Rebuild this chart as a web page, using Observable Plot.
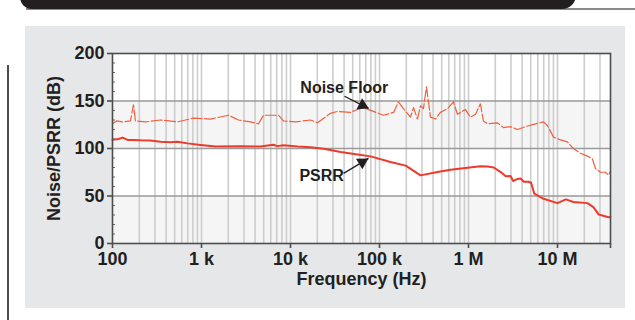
<!DOCTYPE html>
<html>
<head>
<meta charset="utf-8">
<script src="https://cdn.jsdelivr.net/npm/d3@7"></script>
<script src="https://cdn.jsdelivr.net/npm/@observablehq/plot@0.6"></script>
<style>
  html, body { margin: 0; padding: 0; background: #ffffff; }
  #page { position: relative; width: 635px; height: 320px; overflow: hidden; }
  #banner { position: absolute; left: 20px; top: -12px; width: 556px; height: 21px; background: #231f20; border-radius: 0 0 14px 12px; }
  #bannerLine { position: absolute; left: 26px; top: 8px; width: 609px; height: 1.5px; background: #8a8a8a; }
  #sideLine { position: absolute; left: 7px; top: 65px; width: 2px; height: 260px; background: #4d4d4d; }
  #chart { position: absolute; left: 25px; top: 26px; }
  #chart svg { display: block; background: #e6e7e8; }
</style>
</head>
<body>
<div id="page">
  <div id="bannerLine"></div>
  <div id="banner"></div>
  <div id="sideLine"></div>
  <div id="chart"></div>
</div>
<script>
// ---- Data ----
const xMin = 100, xMax = 3.94e7;
const xTickValues = [100, 1e3, 1e4, 1e5, 1e6, 1e7];
const xTickLabels = ["100", "1 k", "10 k", "100 k", "1 M", "10 M"];
const yTickValues = [0, 50, 100, 150, 200];
const yMinorTicks = [10, 20, 30, 40, 60, 70, 80, 90, 110, 120, 130, 140, 160, 170, 180, 190];
const gridDecades = [100, 1e3, 1e4, 1e5, 1e6, 1e7];
const gridMultipliers = [1, 2, 3, 4, 5, 6, 7, 8, 9];
const hGrid = [50, 100, 150];
const bandLo = [0, 100];
const bandHi = [50, 150];

const noiseFreq = [100, 111, 130, 159, 172, 181, 235, 346, 537, 813, 1260, 2010, 2600, 3560, 4370, 4970, 7330, 8340, 11400, 16800, 20100, 28100, 33700, 47200, 56600, 66100, 111000, 144000, 163000, 186000, 223000, 241000, 267000, 289000, 312000, 337000, 374000, 426000, 484000, 581000, 678000, 751000, 925000, 1050000, 1200000, 1360000, 1470000, 1640000, 2120000, 2470000, 2960000, 3550000, 4370000, 5660000, 6970000, 7730000, 9020000, 10800000, 12900000, 15100000, 18100000, 21700000, 24700000, 26700000, 30400000, 34600000, 37400000, 39400000];
const noiseDb = [126, 129, 128, 129, 146, 129, 128, 130, 128, 132, 131, 135, 130, 128, 126, 135, 135, 129, 128, 130, 127, 137, 139, 138, 141, 143, 135, 138, 149, 142, 133, 143, 131, 145, 142, 165, 133, 131, 138, 142, 149, 136, 141, 133, 136, 147, 129, 126, 127, 122, 123, 120, 123, 126, 128, 124, 112, 109, 107, 100, 95, 92, 89, 79, 75, 75, 72, 76];

const psrrFreq = [100, 117, 130, 148, 168, 206, 267, 346, 448, 537, 697, 977, 1440, 2750, 4590, 6420, 7100, 8340, 12000, 16800, 23600, 36600, 56600, 79400, 133000, 197000, 289000, 448000, 628000, 978000, 1360000, 1640000, 1920000, 2300000, 2620000, 2960000, 3180000, 3550000, 3840000, 4170000, 4710000, 5050000, 5490000, 6970000, 10000000, 12400000, 15100000, 21700000, 25300000, 29000000, 37400000, 39400000];
const psrrDb = [109.3, 110, 111.5, 109, 109, 108.6, 108.5, 107, 106.5, 107, 105.4, 103.7, 102, 102.3, 102, 104, 102.5, 103.5, 102, 101.4, 99.8, 96.3, 93.8, 91.7, 85.7, 82, 71.7, 75.2, 77.6, 79.8, 81.2, 81, 80, 75.2, 70.8, 71, 65.7, 68, 68.5, 65, 65, 64, 52.4, 47.1, 42.5, 46.4, 43.7, 42.5, 38.3, 30.6, 27.7, 28];

const annoLabels = ["Noise Floor", "PSRR"];
const annoFreq = [12900, 12600];
const annoDb = [163.4, 71.7];
const arrowStartFreq = [40500, 39500];
const arrowStartDb = [155, 73.8];
const arrowTipFreq = [75200, 75200];
const arrowTipDb = [142.3, 89.6];
const arrowAngle = [116.6, 59];

// ---- Build tables ----
const noise = noiseFreq.map((f, i) => ({f, db: noiseDb[i]}));
const psrr = psrrFreq.map((f, i) => ({f, db: psrrDb[i]}));
const bands = bandLo.map((lo, i) => ({lo, hi: bandHi[i]}));
const gridFreqs = gridDecades.flatMap(d => gridMultipliers.map(m => d * m)).filter(v => v > xMin && v < xMax);
const annos = annoLabels.map((label, i) => ({label, f: annoFreq[i], db: annoDb[i]}));
const t = 0.75;
const arrows = arrowStartFreq.map((f1, i) => {
  const f2 = arrowTipFreq[i];
  const lf = Math.log10(f1) + t * (Math.log10(f2) - Math.log10(f1));
  return {
    f1, db1: arrowStartDb[i], f2, db2: arrowTipDb[i],
    hf: Math.pow(10, lf), hdb: arrowStartDb[i] + t * (arrowTipDb[i] - arrowStartDb[i]),
    angle: arrowAngle[i]
  };
});
const tickLabelOf = v => { const i = xTickValues.indexOf(v); return i >= 0 ? xTickLabels[i] : ""; };

const FONT = "'Liberation Sans', Arial, Helvetica, sans-serif";
const INK = "#231f20";
const RED = "#ee3a2a";

const chart = Plot.plot({
  width: 600,
  height: 282,
  marginLeft: 87,
  marginRight: 15,
  marginTop: 27,
  marginBottom: 65,
  style: {fontFamily: FONT, fontSize: "18px", fontWeight: "bold", color: INK, background: "#e6e7e8", overflow: "visible"},
  x: {type: "log", domain: [xMin, xMax]},
  y: {domain: [0, 200]},
  marks: [
    Plot.frame({fill: "#ffffff"}),
    Plot.rect(bands, {y1: "lo", y2: "hi", fill: "#f5f5f5"}),
    Plot.ruleX(gridFreqs, {stroke: "#cdcdcd", strokeWidth: 1.6}),
    Plot.ruleY(hGrid, {stroke: "#9a9a9a", strokeWidth: 1.4}),
    Plot.tickY(yMinorTicks, {stroke: "#666", strokeWidth: 1, insetRight: 495}),
    Plot.line(noise, {x: "f", y: "db", stroke: "#f0603f", strokeWidth: 1.2, strokeDasharray: "11,2.5"}),
    Plot.line(psrr, {x: "f", y: "db", stroke: RED, strokeWidth: 2}),
    Plot.frame({stroke: "#4d4d4d", strokeWidth: 1.6}),
    Plot.axisX([...xTickValues, xMax], {tickSize: 5, tickPadding: 4, tickFormat: tickLabelOf, stroke: "#4d4d4d", strokeWidth: 1.6, fill: INK, fontSize: 18, fontWeight: "bold", label: null}),
    Plot.axisY(yTickValues, {tickSize: 5, tickPadding: 3, stroke: "#4d4d4d", strokeWidth: 1.6, fill: INK, fontSize: 18, fontWeight: "bold", label: null}),
    Plot.text(["Frequency (Hz)"], {frameAnchor: "bottom", dy: 36, lineAnchor: "middle", textAnchor: "middle", fontSize: 18, fontWeight: "bold", fill: INK}),
    Plot.text(["Noise/PSRR (dB)"], {frameAnchor: "left", dx: -58, rotate: -90, lineAnchor: "middle", textAnchor: "middle", fontSize: 18, fontWeight: "bold", fill: INK}),
    Plot.text(annos, {x: "f", y: "db", text: "label", textAnchor: "start", lineAnchor: "middle", fontSize: 16, fontWeight: "bold", fill: INK}),
    Plot.link(arrows, {x1: "f1", y1: "db1", x2: "f2", y2: "db2", stroke: INK, strokeWidth: 1.3}),
    Plot.dot(arrows, {x: "hf", y: "hdb", symbol: "triangle", r: 4.6, fill: INK, stroke: "none", rotate: "angle"})
  ]
});
document.getElementById("chart").appendChild(chart);
</script>
</body>
</html>
